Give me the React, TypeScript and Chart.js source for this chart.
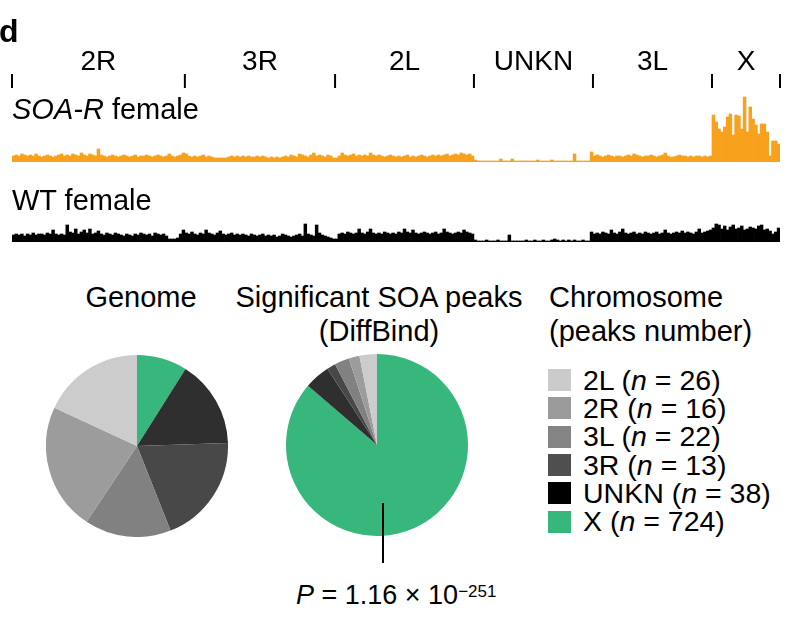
import React, { useEffect, useRef } from 'react';
import { Chart, registerables } from 'chart.js';
Chart.register(...registerables);

// ---------- DATA ----------
const chromosomes = ['2R', '3R', '2L', 'UNKN', '3L', 'X'];

// SOA-R female signal (approx. 1 Mb bins)
const soaR_2R = [6,7,6,8,7,6,7,6,8,6, 5,6,7,6,5,6,7,8,6,7, 6,8,7,6,9,7,6,8,7,6, 13,7,6,5,6,7,6,5,6,7, 6,5,6,7,5,6,6,7,6,5, 6,7,6,5,6,8,6,5,6,7, 9];
const soaR_3R = [8,6,5,6,5,6,7,5,6,5, 4,4,4,4,4,5,6,5,6,5, 6,5,6,5,5,6,5,6,5,4, 5,4,5,4,5,6,5,7,6,5, 8,7,6,5,7,9,6,7,6,5, 7,6,4];
const soaR_2L = [4,6,9,7,6,7,8,6,7,6, 7,6,9,7,6,7,6,5,6,7, 6,5,6,5,6,7,5,6,5,6, 7,6,5,6,7,6,7,6,7,8, 6,7,8,7,9,8,7,8,6];
const soaR_UNKN = [2,1,1,1,1,1,1,1,1,3, 1,1,1,3,1,1,1,1,1,1, 1,1,2,1,1,1,1,2,1,1, 1,1,1,1,1,8,1,1,1,1, 1,10];
const soaR_3L = [6,7,6,5,6,7,6,5,6,6, 5,6,7,6,8,7,6,5,6,6, 7,6,5,6,7,9,6,5,5,6, 7,6,6,5,6,5,6,6,5,6, 5,6];
const soaR_X = [47,40,33,30,35,45,48,27,47,46, 33,65,30,55,43,37,28,38,38,30, 6,21,21,18];

// WT female signal
const wt_2R = [7,8,7,8,6,8,7,9,7,8, 8,7,9,8,12,8,7,8,7,17, 10,9,13,8,10,12,9,13,8,9, 11,8,7,9,8,7,9,8,7,6, 8,7,6,8,7,9,8,7,8,6, 9,8,7,8,6,3,3,3,4,8, 12];
const wt_3R = [9,8,10,8,7,9,8,12,9,8, 7,9,11,8,7,8,9,7,8,7, 8,7,6,8,7,6,7,8,6,7, 6,7,5,6,8,7,6,5,6,7, 8,6,18,8,7,6,17,9,7,6, 5,4,3];
const wt_2L = [3,8,9,8,10,9,8,9,13,9, 8,10,13,9,8,9,8,10,9,8, 9,8,10,9,13,10,9,12,9,8, 9,10,9,8,9,10,8,9,13,10, 9,8,9,10,9,12,10,9,8];
const wt_UNKN = [2,1,1,1,2,1,1,1,2,1, 1,1,7,1,1,1,1,1,2,1, 1,2,1,1,2,1,1,2,3,2, 1,2,1,2,1,2,1,1,2,1, 1,10];
const wt_3L = [8,9,8,10,9,8,12,9,8,10, 13,9,8,9,10,8,9,8,10,9, 8,9,10,8,9,12,9,8,9,10, 9,11,9,10,9,8,10,13,9,10, 11,12];
const wt_X = [14,18,17,13,16,12,15,17,13,14, 16,12,13,15,14,13,16,17,12,13, 11,8,10,14];

// Pie / legend data (legend order)
const legendLabels = ['2L', '2R', '3L', '3R', 'UNKN', 'X'];
const peakCounts = [26, 16, 22, 13, 38, 724];
const genomeSizesMb = [49.4, 61.5, 41.9, 53.2, 42.4, 24.4];
const legendColors = ['#cbcbcb', '#9b9b9b', '#848484', '#4f4f4f', '#000000', '#37b77b'];
const pieColors = ['#cccccc', '#9c9c9c', '#818181', '#484848', '#2f2f2f', '#37b77b'];

// ---------- helpers ----------
const FONT = '"Liberation Sans", Arial, Helvetica, sans-serif';
const ORANGE = '#f7a11c';

const soaTrack = [soaR_2R, soaR_3R, soaR_2L, soaR_UNKN, soaR_3L, soaR_X];
const wtTrack = [wt_2R, wt_3R, wt_2L, wt_UNKN, wt_3L, wt_X];
const binLabels: string[] = [];
soaTrack.forEach((arr, ci) => arr.forEach((_, i) => binLabels.push(chromosomes[ci] + ':' + i)));
const chromLengths = soaTrack.map((a) => a.length);

function Txt(props: { x: number; y: number; size?: number; align?: string; weight?: string; children: any }) {
  const size = props.size || 29;
  const style: React.CSSProperties = {
    position: 'absolute',
    left: props.x,
    top: props.y - 0.8465 * size,
    fontSize: size,
    lineHeight: size + 'px',
    fontFamily: FONT,
    whiteSpace: 'nowrap',
    color: '#000',
    fontWeight: (props.weight as any) || 'normal',
    transform: props.align === 'center' ? 'translateX(-50%)' : undefined,
  };
  return <div style={style}>{props.children}</div>;
}

const chromPlugin = {
  id: 'chromTicks',
  afterDraw(chart: any) {
    const xs = chart.scales.x;
    const ctx = chart.ctx;
    ctx.save();
    ctx.strokeStyle = '#000';
    ctx.lineWidth = 2;
    ctx.fillStyle = '#000';
    ctx.font = '28px ' + FONT;
    ctx.textAlign = 'center';
    ctx.textBaseline = 'alphabetic';
    let c = 0;
    const bounds: number[] = [xs.getPixelForValue(-0.5)];
    chromLengths.forEach((len) => {
      c += len;
      bounds.push(xs.getPixelForValue(c - 0.5));
    });
    bounds.forEach((b) => {
      ctx.beginPath();
      ctx.moveTo(b, 74);
      ctx.lineTo(b, 88);
      ctx.stroke();
    });
    chromosomes.forEach((name, i) => {
      ctx.fillText(name, (bounds[i] + bounds[i + 1]) / 2, 70);
    });
    ctx.restore();
  },
};

function trackConfig(tracks: number[][], color: string, yMax: number, padTop: number, withLabels: boolean): any {
  const data: number[] = [];
  tracks.forEach((a) => a.forEach((v) => data.push(v)));
  return {
    type: 'bar',
    data: {
      labels: binLabels,
      datasets: [{ data, backgroundColor: color, borderWidth: 0, barPercentage: 1, categoryPercentage: 1 }],
    },
    options: {
      animation: false,
      responsive: false,
      events: [],
      layout: { padding: { left: 12, right: 19, top: padTop, bottom: 1 } },
      scales: { x: { display: false }, y: { display: false, min: 0, max: yMax } },
      plugins: { legend: { display: false }, tooltip: { enabled: false } },
    },
    plugins: withLabels ? [chromPlugin] : [],
  };
}

function pieConfig(values: number[]): any {
  const rev = [...values].reverse();
  const cols = [...pieColors].reverse();
  const labs = [...legendLabels].reverse();
  return {
    type: 'pie',
    data: { labels: labs, datasets: [{ data: rev, backgroundColor: cols, borderWidth: 0, hoverOffset: 0, offset: 0 }] },
    options: {
      animation: false,
      responsive: false,
      events: [],
      layout: { padding: 0 },
      plugins: { legend: { display: false }, tooltip: { enabled: false } },
    },
  };
}

function ChartCanvas(props: { config: any; left: number; top: number; width: number; height: number }) {
  const ref = useRef<HTMLCanvasElement>(null);
  useEffect(() => {
    const chart = new Chart(ref.current as HTMLCanvasElement, props.config);
    return () => chart.destroy();
  }, []);
  return (
    <canvas
      ref={ref}
      width={props.width}
      height={props.height}
      style={{ position: 'absolute', left: props.left, top: props.top, width: props.width, height: props.height }}
    />
  );
}

export default function App() {
  const legendBase = 390;
  const legendStep = 28.3;
  return (
    <div style={{ position: 'absolute', left: 0, top: 0, width: 799, height: 625, background: '#fff', overflow: 'hidden', fontFamily: FONT }}>
      <ChartCanvas config={trackConfig(soaTrack, ORANGE, 70, 92, true)} left={0} top={0} width={799} height={163} />
      <ChartCanvas config={trackConfig(wtTrack, '#000000', 24, 8, false)} left={0} top={210} width={799} height={33} />
      <ChartCanvas config={pieConfig(genomeSizesMb)} left={46} top={355} width={182} height={182} />
      <ChartCanvas config={pieConfig(peakCounts)} left={286} top={354} width={182} height={182} />

      <Txt x={-1} y={42} size={32} weight="bold">d</Txt>
      <Txt x={12} y={120}><i>SOA-R</i> female</Txt>
      <Txt x={12} y={211}>WT female</Txt>

      <Txt x={141} y={308} align="center">Genome</Txt>
      <Txt x={379} y={308} align="center">Significant SOA peaks</Txt>
      <Txt x={379} y={342} align="center">(DiffBind)</Txt>
      <Txt x={549} y={308}>Chromosome</Txt>
      <Txt x={549} y={342}>(peaks number)</Txt>

      {legendLabels.map((lab, i) => (
        <React.Fragment key={lab}>
          <div style={{ position: 'absolute', left: 548, top: legendBase + i * legendStep - 21, width: 23, height: 22, background: legendColors[i] }} />
          <Txt x={583} y={legendBase + i * legendStep} size={28.5}>
            {lab} (<i>n</i> = {peakCounts[i]})
          </Txt>
        </React.Fragment>
      ))}

      <div style={{ position: 'absolute', left: 382, top: 503, width: 1.5, height: 60, background: '#000' }} />
      <Txt x={296} y={601} size={27}>
        <i>P</i> = 1.16 × 10<span style={{ fontSize: 17, verticalAlign: '7px' }}>−251</span>
      </Txt>
    </div>
  );
}
